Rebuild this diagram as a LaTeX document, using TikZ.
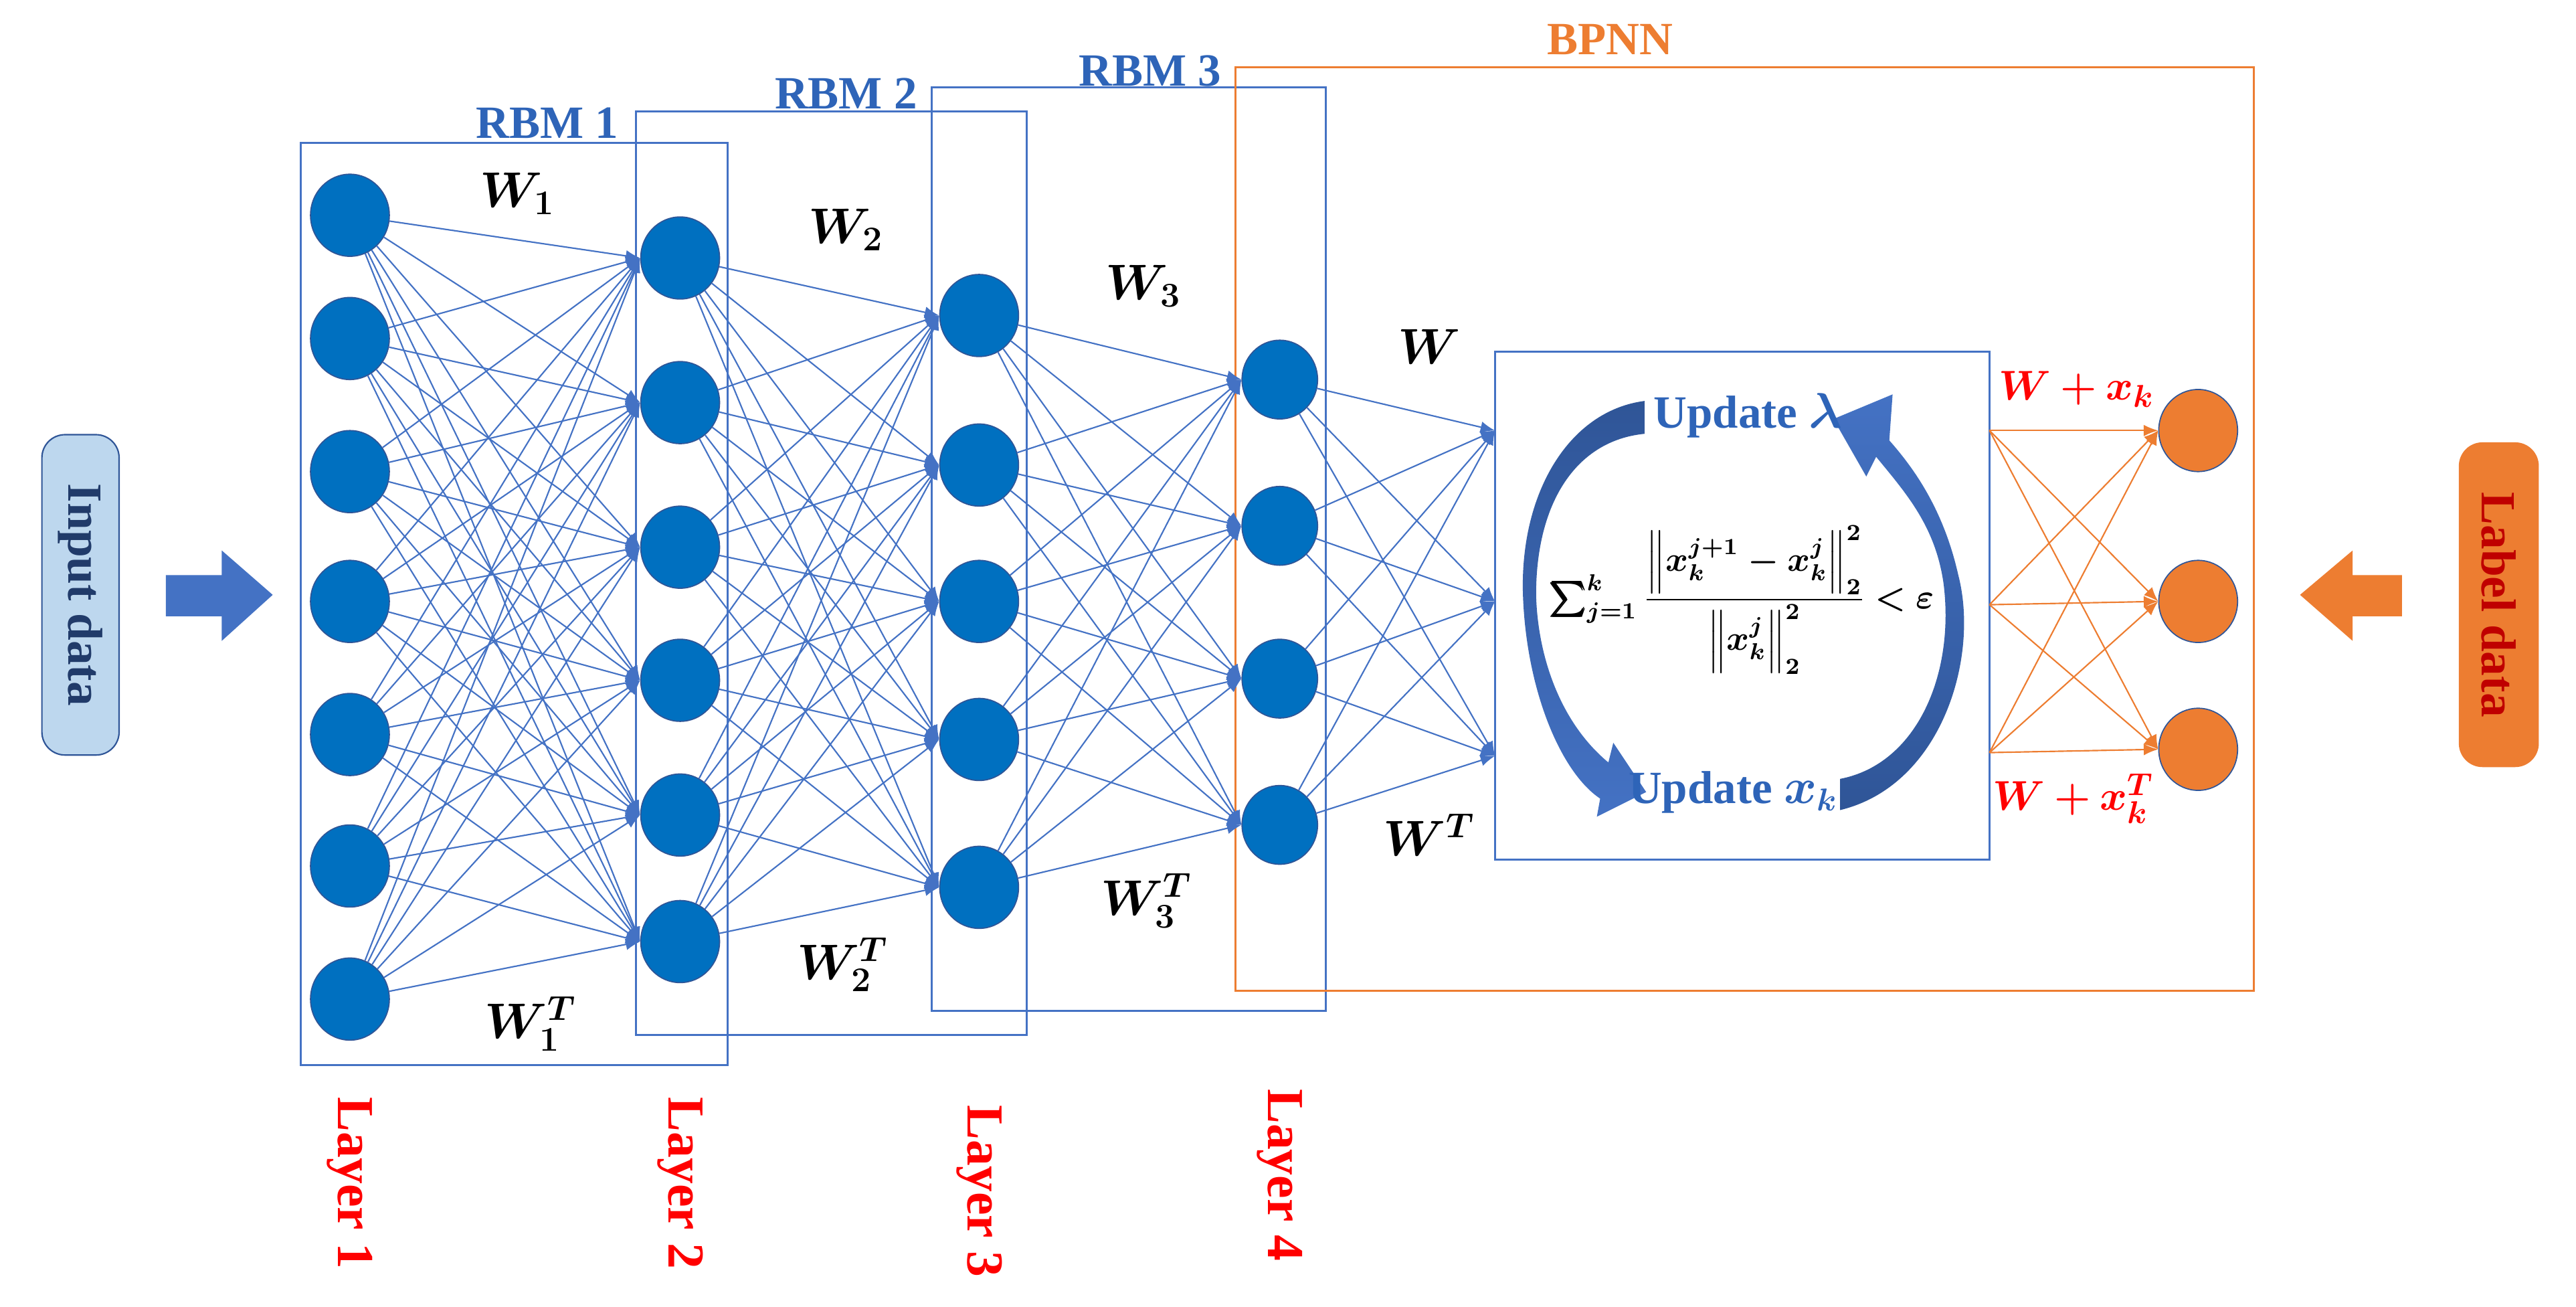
\documentclass[tikz,border=0pt]{standalone}
\usepackage{fontspec}
\usepackage{amsmath,bm}
\setmainfont{Liberation Serif}
\usetikzlibrary{arrows.meta,shapes.geometric}
\definecolor{nb}{HTML}{0070C0}
\definecolor{ln}{HTML}{4472C4}
\definecolor{dk}{HTML}{2F5597}
\definecolor{og}{HTML}{ED7D31}
\definecolor{tb}{HTML}{2E64B8}
\definecolor{lb}{HTML}{BDD7EE}
\begin{document}
\begin{tikzpicture}[x=0.02cm,y=-0.02cm,
  neu/.style={ellipse,fill=nb,draw=dk,line width=0.4pt,minimum width=0.96cm,minimum height=1.0cm,inner sep=0pt},
  oneu/.style={ellipse,fill=og,draw=dk,line width=0.4pt,minimum width=0.96cm,minimum height=1.0cm,inner sep=0pt},
  ed/.style={ln,line width=0.5pt,-{Latex[length=5pt,width=4pt]}},
  oed/.style={og,line width=0.5pt,-{Latex[length=5pt,width=4pt]}},
  box/.style={ln,line width=0.7pt},
  rbm/.style={tb,font=\fontsize{16}{18}\selectfont\bfseries},
  wl/.style={font=\fontsize{18}{20}\selectfont},
  rl/.style={red,font=\fontsize{15}{17}\selectfont},
  lay/.style={red,font=\fontsize{18}{20}\selectfont\bfseries,rotate=-90},
  upd/.style={tb,font=\fontsize{16}{18}\selectfont\bfseries}]
\useasboundingbox (0,0) rectangle (1568,795);
% boxes
\draw[box] (183,87) rectangle (443,648);
\draw[box] (387,68) rectangle (625,630);
\draw[box] (567,53) rectangle (807,615);
\draw[og,line width=0.7pt] (752,41) rectangle (1372,603);
\draw[box] (910,214) rectangle (1211,523);
\node[rbm] (r1) at (333,75) {RBM 1};
\node[rbm] (r2) at (515,57) {RBM 2};
\node[rbm] (r3) at (700,43) {RBM 3};
\node[og,font=\fontsize{16}{18}\selectfont\bfseries] (bp) at (980,24) {BPNN};
% neurons
\foreach \y [count=\i] in {131,206,287,366,447,527,608} \node[neu] (a\i) at (213,\y) {};
\foreach \y [count=\i] in {157,245,333,414,496,573} \node[neu] (b\i) at (414,\y) {};
\foreach \y [count=\i] in {192,283,366,450,540} \node[neu] (c\i) at (596,\y) {};
\foreach \y [count=\i] in {231,320,413,502} \node[neu,minimum width=0.92cm,minimum height=0.96cm] (d\i) at (779,\y) {};
\foreach \y [count=\i] in {262,366,456} \node[oneu] (o\i) at (1338,\y) {};
\coordinate (p1) at (910,262);
\coordinate (p2) at (910,366);
\coordinate (p3) at (910,460);
\coordinate (q1) at (1211,262);
\coordinate (q2) at (1211,368);
\coordinate (q3) at (1211,458);
% edges
\foreach \i in {1,...,7} \foreach \j in {1,...,6} \draw[ed] (a\i) -- (b\j.west);
\foreach \i in {1,...,6} \foreach \j in {1,...,5} \draw[ed] (b\i) -- (c\j.west);
\foreach \i in {1,...,5} \foreach \j in {1,...,4} \draw[ed] (c\i) -- (d\j.west);
\foreach \i in {1,...,4} \foreach \j in {1,...,3} \draw[ed] (d\i) -- (p\j);
\foreach \i in {1,...,3} \foreach \j in {1,...,3} \draw[oed] (q\i) -- (o\j.west);
% weight labels
\node[wl] (w1) at (315,118) {$\bm{W_1}$};
\node[wl] (w2) at (515,140) {$\bm{W_2}$};
\node[wl] (w3) at (696,174) {$\bm{W_3}$};
\node[wl] (w) at (870,211) {$\bm{W}$};
\node[wl] (wt) at (870,508) {$\bm{W^T}$};
\node[wl] (w3t) at (698,548) {$\bm{W_3^T}$};
\node[wl] (w2t) at (513,587) {$\bm{W_2^T}$};
\node[wl] (w1t) at (323,623) {$\bm{W_1^T}$};
\node[rl] (wx) at (1264,237) {$\bm{W+x_k}$};
\node[rl] (wxt) at (1262,486) {$\bm{W+x_k^T}$};
% layer labels
\node[lay] (l1) at (213,720) {Layer 1};
\node[lay] (l2) at (414,720) {Layer 2};
\node[lay] (l3) at (596,725) {Layer 3};
\node[lay] (l4) at (779,715) {Layer 4};
% input / label
\node[draw=dk,fill=lb,rounded corners=8pt,minimum width=0.94cm,minimum height=3.9cm,line width=0.5pt] (in) at (49,362) {};
\node[rotate=-90,text=dk!70!black,font=\fontsize{17}{19}\selectfont\bfseries] at (in) {Input data};
\node[draw=og,fill=og,rounded corners=8pt,minimum width=0.96cm,minimum height=3.94cm] (lbx) at (1521,368) {};
\node[rotate=-90,text=red!75!black,font=\fontsize{17}{19}\selectfont\bfseries] at (lbx) {Label data};
\fill[ln] (101,350) -- (135,350) -- (135,335) -- (166,362) -- (135,390) -- (135,375) -- (101,375) -- cycle;
\fill[og] (1462,350) -- (1432,350) -- (1432,335) -- (1400,362) -- (1432,390) -- (1432,375) -- (1462,375) -- cycle;
% cycle arrows
\shade[top color=dk,bottom color=ln] (1001,244) .. controls (955,250) and (925,300) .. (927,362)
  .. controls (929,420) and (950,470) .. (974,486)
  -- (972,497) -- (1002,482) -- (982,452) -- (979,464)
  .. controls (950,440) and (936,400) .. (935,362)
  .. controls (935,305) and (960,268) .. (1001,264) -- cycle;
\shade[top color=ln,bottom color=dk] (1120,474) -- (1120,493)
  .. controls (1182,478) and (1205,400) .. (1192,350)
  .. controls (1183,310) and (1165,285) .. (1150,268)
  -- (1152,240) -- (1116,255) -- (1136,290) -- (1142,278)
  .. controls (1160,300) and (1178,320) .. (1183,355)
  .. controls (1190,410) and (1167,465) .. (1120,474) -- cycle;
\node[upd] (ul) at (1064,253) {Update $\bm{\lambda}$};
\node[upd] (ux) at (1055,482) {Update $\bm{x_k}$};
\node[font=\fontsize{12}{14}\selectfont,inner sep=0pt] (f) at (1060,365) {$\boldsymbol{\textstyle\sum_{j=1}^{k}\dfrac{\left\|x_k^{j+1}-x_k^{j}\right\|_2^2}{\left\|x_k^{j}\right\|_2^2}<\varepsilon}$};
\end{tikzpicture}
\end{document}
